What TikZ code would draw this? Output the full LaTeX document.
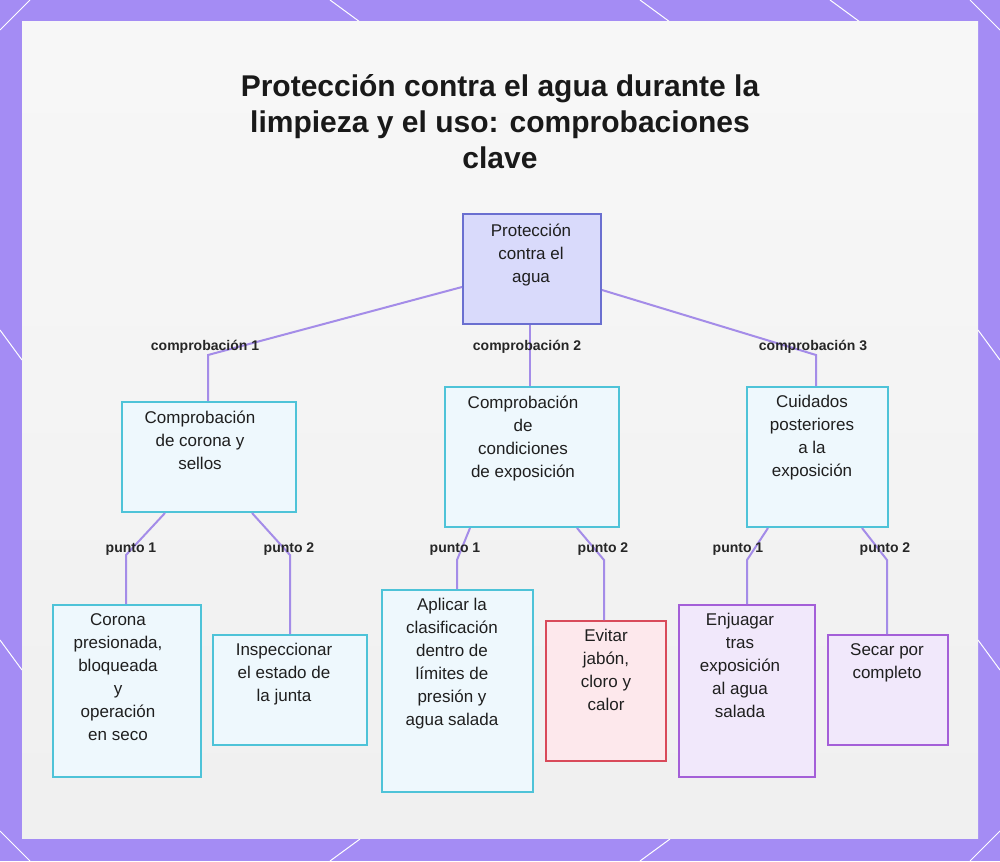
\documentclass[tikz,border=0pt]{standalone}
\usepackage{fontspec}
\setmainfont{Liberation Sans}
\definecolor{bord}{HTML}{A48CF4}
\definecolor{lineC}{HTML}{A48CE8}
\definecolor{cyanB}{HTML}{4EC3D8}
\definecolor{cyanF}{HTML}{EEF8FD}
\definecolor{purB}{HTML}{A45FD8}
\definecolor{purF}{HTML}{F1E8FB}
\definecolor{rootB}{HTML}{6A6FD0}
\definecolor{rootF}{HTML}{D9DAFB}
\definecolor{redB}{HTML}{D94A5A}
\definecolor{redF}{HTML}{FDE8EC}
\begin{document}
\begin{tikzpicture}[x=1pt,y=-1pt,
 box/.style={draw=#1,line width=2pt,inner sep=0pt,anchor=north west},
 cy/.style={box=cyanB,fill=cyanF},
 pu/.style={box=purB,fill=purF},
 txt/.style={align=center,font=\fontsize{17}{23}\selectfont,anchor=north,text=black!88},
 edge/.style={draw=lineC,line width=2pt},
 lab/.style={font=\bfseries\fontsize{14}{16}\selectfont,text=black!85}]
\useasboundingbox (0,0) rectangle (1000,861);
\fill[bord] (0,0) rectangle (1000,861);
\foreach \a/\b/\c/\d in {0/30/30/0, 330/0/360/22, 640/0/670/22, 830/0/860/22, 0/330/22/360, 0/640/22/670, 978/330/1000/360, 978/640/1000/670, 970/0/1000/30, 0/831/30/861, 970/861/1000/831, 330/861/360/839, 640/861/670/839}
  \draw[white,line width=1pt] (\a,\b)--(\c,\d);
\fill[white] (22,22) rectangle (978,838);
\shade[top color=black!3,bottom color=black!6] (22,22) rectangle (978,838);
\node[font=\bfseries\fontsize{30}{36}\selectfont,align=center,text=black!90] (title) at (500,122) {Protección contra el agua durante la\\limpieza y el uso: comprobaciones\\clave};
\node[box=rootB,fill=rootF,minimum width=138,minimum height=110] (root) at (462,213) {};
\node[txt] (troot) at (531,220) {Protección\\contra el\\agua};
\node[cy,minimum width=174,minimum height=110] (c1) at (121,401) {};
\node[txt] (tc1) at (200,407) {Comprobación\\de corona y\\sellos};
\node[cy,minimum width=174,minimum height=140] (c2) at (444,386) {};
\node[txt] (tc2) at (523,392) {Comprobación\\de\\condiciones\\de exposición};
\node[cy,minimum width=141,minimum height=140] (c3) at (746,386) {};
\node[txt] (tc3) at (812,392) {Cuidados\\posteriores\\a la\\exposición};
\node[cy,minimum width=148,minimum height=172] (l1) at (52,604) {};
\node[txt] (tl1) at (118,610) {Corona\\presionada,\\bloqueada\\y\\operación\\en seco};
\node[cy,minimum width=154,minimum height=110] (l2) at (212,634) {};
\node[txt] (tl2) at (284,640) {Inspeccionar\\el estado de\\la junta};
\node[cy,minimum width=151,minimum height=202] (l3) at (381,589) {};
\node[txt] (tl3) at (452,595) {Aplicar la\\clasificación\\dentro de\\límites de\\presión y\\agua salada};
\node[box=redB,fill=redF,minimum width=120,minimum height=140] (l4) at (545,620) {};
\node[txt] (tl4) at (606,626) {Evitar\\jabón,\\cloro y\\calor};
\node[pu,minimum width=136,minimum height=172] (l5) at (678,604) {};
\node[txt] (tl5) at (740,610) {Enjuagar\\tras\\exposición\\al agua\\salada};
\node[pu,minimum width=120,minimum height=110] (l6) at (827,634) {};
\node[txt] (tl6) at (887,640) {Secar por\\completo};
\coordinate (k1) at (208,355); \coordinate (k3) at (816,355);
\draw[edge] (root.west|-0,287) -- (k1) -- (c1.north-|k1);
\draw[edge] (root.south-|530,0) -- (c2.north-|530,0);
\draw[edge] (root.east|-0,290) -- (k3) -- (c3.north-|k3);
\node[lab] (e1) at (205,347) {comprobación 1};
\node[lab] (e2) at (527,347) {comprobación 2};
\node[lab] (e3) at (813,347) {comprobación 3};
\draw[edge] (c1.south-|165,0) -- (126,555) -- (l1.north-|126,0);
\draw[edge] (c1.south-|252,0) -- (290,555) -- (l2.north-|290,0);
\draw[edge] (c2.south-|470,0) -- (457,560) -- (l3.north-|457,0);
\draw[edge] (c2.south-|577,0) -- (604,560) -- (l4.north-|604,0);
\draw[edge] (c3.south-|768,0) -- (747,560) -- (l5.north-|747,0);
\draw[edge] (c3.south-|862,0) -- (887,560) -- (l6.north-|887,0);
\node[lab] (p1) at (131,549) {punto 1};
\node[lab] (p2) at (289,549) {punto 2};
\node[lab] (p3) at (455,549) {punto 1};
\node[lab] (p4) at (603,549) {punto 2};
\node[lab] (p5) at (738,549) {punto 1};
\node[lab] (p6) at (885,549) {punto 2};
\end{tikzpicture}
\end{document}
